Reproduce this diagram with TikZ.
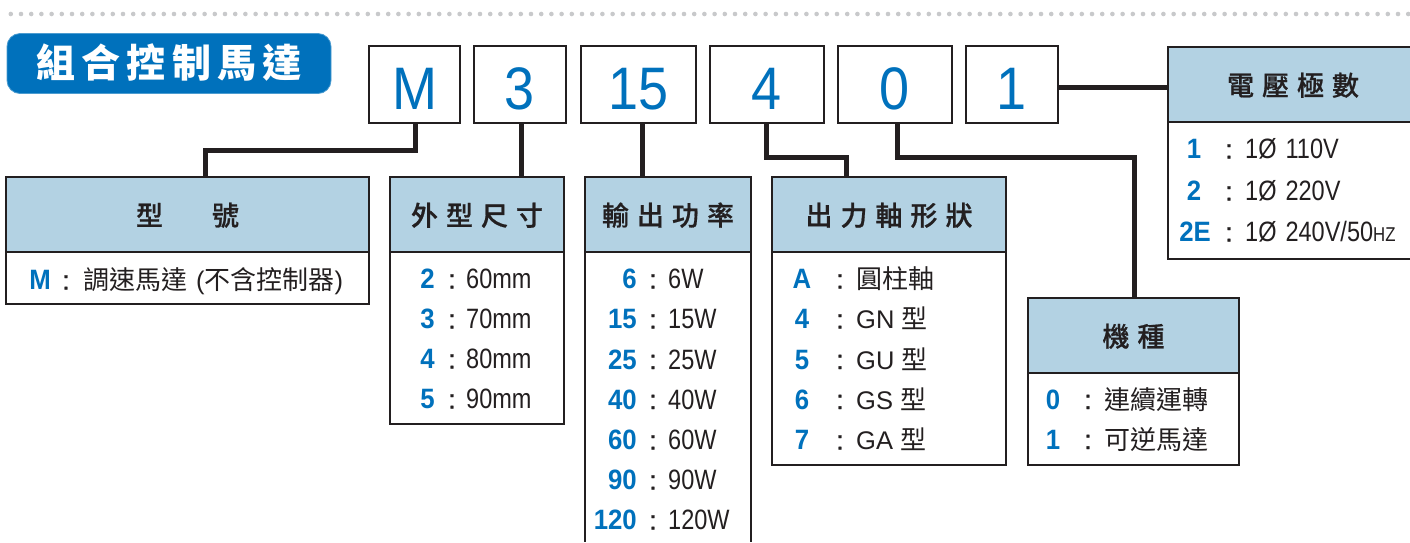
\documentclass[tikz,border=0pt]{standalone}
\usepackage{fontspec}
\setmainfont{Liberation Sans}
\newfontfamily\cjk{Noto Sans CJK TC}
\newfontfamily\cjkm[FakeBold=0.7]{Noto Sans CJK TC Medium}
\newfontfamily\cond[FakeStretch=0.84]{Liberation Sans}
\newfontfamily\keyf[FakeStretch=0.92]{Liberation Sans}
\newfontfamily\codef[FakeStretch=0.9]{Liberation Sans}
\newfontfamily\colf[FakeBold=1]{Liberation Sans}
\definecolor{brand}{RGB}{0,113,188}
\definecolor{ink}{RGB}{35,31,32}
\definecolor{head}{RGB}{179,210,227}
\definecolor{dotc}{RGB}{200,201,203}
\newcommand{\fs}[1]{\fontsize{#1}{#1}\selectfont}
\newcommand{\Row}[8]{%
  \node[keytxt,anchor=#2] (#1-k) at (#3,#6) {#7};
  \node[coltxt] (#1-c) at (#4,#6) {:};
  \node[valtxt] (#1-v) at (#5,#6) {#8};
}
\newcommand{\cn}[1]{{\cjk\fs{26}#1}}
\newcommand{\cs}[1]{{\fontspec{Liberation Sans}\fs{25.5}#1}}
\begin{document}
\begin{tikzpicture}[x=1pt,y=-1pt,
  codebox/.style={draw=ink,line width=2pt,fill=white,inner sep=0pt,minimum height=77pt,
     text=brand,font=\codef\fs{60},text height=49pt,text depth=0pt},
  headbox/.style={draw=ink,line width=2.2pt,fill=head,inner sep=0pt,minimum height=75pt,
     text=ink,font=\cjkm\fs{27},text height=22pt,text depth=0pt},
  bodybox/.style={draw=ink,line width=2.2pt,fill=white,inner sep=0pt},
  headfill/.style={fill=head,inner sep=0pt,minimum height=75pt,
     text=ink,font=\cjkm\fs{27},text height=22pt,text depth=0pt},
  bodyfill/.style={fill=white,inner sep=0pt},
  edge/.style={draw=ink,line width=2.2pt,line cap=butt},
  conn/.style={draw=ink,line width=5pt,line join=miter},
  keytxt/.style={inner sep=0pt,yshift=-0.6pt,text=brand,font=\keyf\bfseries\fs{28}},
  coltxt/.style={inner sep=0pt,yshift=-0.6pt,anchor=base,text=ink,font=\colf\fs{27}},
  valtxt/.style={inner sep=0pt,yshift=-0.6pt,anchor=base west,text=ink,font=\cond\fs{28}},
  dotm/.style={fill=dotc,draw=none,circle,minimum size=4.6pt,inner sep=0pt},
  titlebox/.style={fill=brand,draw=brand!70!white,line width=.8pt,rounded corners=13pt,inner sep=0pt,
     minimum width=324pt,minimum height=60pt,text=white,font=\cjk\bfseries\fs{39},
     text height=27pt,text depth=0pt}]
\useasboundingbox (0,0) rectangle (1410,542);
\fill[white] (0,0) rectangle (1410,542);
% dotted rule
\foreach \i in {0,...,137} {
  \pgfmathsetmacro{\dx}{10.8+10.2*\i}
  \node[dotm] (dot\i) at (\dx,14) {};
}
% title
\node[titlebox] (title) at (169,63.5) {組\hspace{6.2pt}合\hspace{6.2pt}控\hspace{6.2pt}制\hspace{6.2pt}馬\hspace{6.2pt}達};
% code boxes
\node[codebox,minimum width=91pt] (cM) at (414.5,84.5) {M};
\node[codebox,minimum width=92pt] (c3) at (520,84.5) {3};
\node[codebox,minimum width=115pt] (c15) at (638.5,84.5) {15};
\node[codebox,minimum width=114pt] (c4) at (767,84.5) {4};
\node[codebox,minimum width=114pt] (c0) at (895,84.5) {0};
\node[codebox,minimum width=92pt] (c1) at (1012,84.5) {1};
% connector ends
\coordinate (inM) at (205,177);
\coordinate (in3) at (521,177);
\coordinate (in15) at (642,177);
\coordinate (in4) at (846,177);
\coordinate (in0) at (1134,298);
\coordinate (out4) at (766,123);
\coordinate (out0) at (897,123);
\coordinate (outM) at (415,123);
\coordinate (out3) at (521,123);
\coordinate (out15) at (642,123);
\coordinate (in1) at (1168,87);
\coordinate (out1) at (1058,87);
\draw[conn] (outM) -- ++(0,27) -| (inM);
\draw[conn] (out3) -- (in3);
\draw[conn] (out15) -- (in15);
\draw[conn] (out4) -- ++(0,34) -| (in4);
\draw[conn] (out0) -- ++(0,34) -| (in0);
\draw[conn] (out1) -- (in1);
% model table
\node[bodybox,minimum width=363pt,minimum height=52pt] (b1) at (187.5,278) {};
\node[headbox,minimum width=363pt] (h1) at (187.5,214.5) {型\hspace{49pt}號};
\node[keytxt,anchor=base] (r1-k) at (40,289) {M};
\node[coltxt] (r1-c) at (66,289) {:};
\node[inner sep=0pt,yshift=-0.6pt,anchor=base west,text=ink] (r1-v) at (83,289) {\cn{調速馬達}\hspace{9pt}\cs{(}\cn{不含控制器}\cs{)}};
% size table
\node[bodybox,minimum width=174pt,minimum height=172pt] (b2) at (477,338) {};
\node[headbox,minimum width=174pt] (h2) at (477,214.5) {外\hspace{8pt}型\hspace{8pt}尺\hspace{8pt}寸};
\Row{r2a}{base east}{435}{452}{466}{288}{2}{60mm}
\Row{r2b}{base east}{435}{452}{466}{328}{3}{70mm}
\Row{r2c}{base east}{435}{452}{466}{368}{4}{80mm}
\Row{r2d}{base east}{435}{452}{466}{408}{5}{90mm}
% power table
\node[bodyfill,minimum width=166pt,minimum height=290pt] (b3) at (668,397) {};
\draw[edge] (b3.north west) -- (b3.south west);
\draw[edge] (b3.north east) -- (b3.south east);
\node[headbox,minimum width=166pt] (h3) at (668,214.5) {輸\hspace{8pt}出\hspace{8pt}功\hspace{8pt}率};
\Row{r3a}{base east}{637}{653}{668}{288}{6}{6W}
\Row{r3b}{base east}{637}{653}{668}{328}{15}{15W}
\Row{r3c}{base east}{637}{653}{668}{368.5}{25}{25W}
\Row{r3d}{base east}{637}{653}{668}{408.5}{40}{40W}
\Row{r3e}{base east}{637}{653}{668}{449}{60}{60W}
\Row{r3f}{base east}{637}{653}{668}{489}{90}{90W}
\Row{r3g}{base east}{637}{653}{668}{529}{120}{120W}
% shaft table
\node[bodybox,minimum width=234pt,minimum height=213pt] (b4) at (889,358.5) {};
\node[headbox,minimum width=234pt] (h4) at (889,214.5) {出\hspace{8pt}力\hspace{8pt}軸\hspace{8pt}形\hspace{8pt}狀};
\Row{r4a}{base}{802}{840}{856}{288}{A}{\cn{圓柱軸}}
\Row{r4b}{base}{802}{840}{856}{328}{4}{\cs{GN }\cn{型}}
\Row{r4c}{base}{802}{840}{856}{368.5}{5}{\cs{GU }\cn{型}}
\Row{r4d}{base}{802}{840}{856}{408.5}{6}{\cs{GS }\cn{型}}
\Row{r4e}{base}{802}{840}{856}{449}{7}{\cs{GA }\cn{型}}
% type table
\node[bodybox,minimum width=211pt,minimum height=92pt] (b5) at (1133.5,419) {};
\node[headbox,minimum width=211pt] (h5) at (1133.5,335.5) {機\hspace{8pt}種};
\Row{r5a}{base}{1053}{1088}{1104}{408.5}{0}{\cn{連續運轉}}
\Row{r5b}{base}{1053}{1088}{1104}{448.5}{1}{\cn{可逆馬達}}
% voltage table
\node[bodyfill,minimum width=242pt,minimum height=137pt] (b6) at (1289,190.5) {};
\node[headfill,minimum width=242pt] (h6) at (1289,84.5) {\hspace{8pt}電\hspace{8pt}壓\hspace{8pt}極\hspace{8pt}數};
\draw[edge] (h6.north east) -- (h6.north west) -- (b6.south west) -- (b6.south east);
\draw[edge] (h6.south west) -- (h6.south east);
\Row{r6a}{base}{1194}{1229}{1245}{158}{1}{1Ø\hspace{9pt}110V}
\Row{r6b}{base}{1194}{1229}{1245}{200}{2}{1Ø\hspace{9pt}220V}
\Row{r6c}{base}{1195}{1229}{1245}{241}{2E}{1Ø\hspace{9pt}240V/50{\fs{20}HZ}}
\end{tikzpicture}
\end{document}
